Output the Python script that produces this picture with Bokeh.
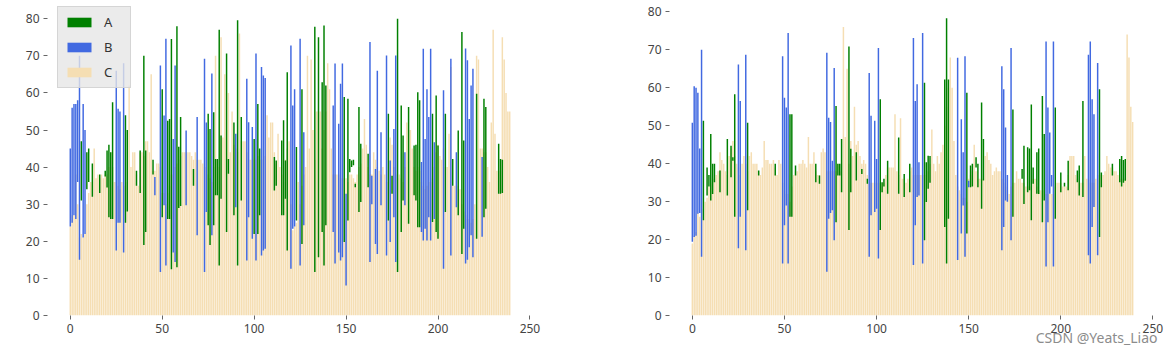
from bokeh.plotting import figure
from bokeh.layouts import row
from bokeh.models import FixedTicker, Legend, LegendItem, Range1d, Title
from bokeh.embed import file_html
from bokeh.resources import INLINE

# ---------------- data ----------------
labels = ["A", "B", "C"]
x_ticks = [0, 50, 100, 150, 200, 250]
y_ticks = [0, 10, 20, 30, 40, 50, 60, 70, 80]

# C (wheat) heights, left chart, index 0..239
c_left = [
    24, 27, 27, 38, 30, 21, 22, 21, 22, 30, 33, 36, 36, 45, 37, 38, 37, 38, 37, 38,
    38, 40, 44, 40, 36, 36, 35, 34, 36, 35, 35, 36, 62, 40, 44, 44, 38, 35, 44, 44,
    43, 47, 47, 44, 65, 39, 39, 41, 41, 40, 33, 33, 30, 33, 35, 38, 38, 40, 41, 42,
    43, 44, 44, 44, 44, 44, 43, 42, 44, 42, 42, 42, 41, 40, 40, 38, 37, 36, 40, 70,
    42, 40, 75, 48, 65, 50, 60, 44, 55, 46, 45, 44, 76, 47, 47, 47, 44, 42, 42, 42,
    42, 42, 43, 42, 42, 42, 43, 54, 48, 52, 52, 44, 41, 49, 40, 38, 36, 42, 45, 47,
    30, 23, 24, 25, 36, 30, 35, 38, 40, 70, 45, 69, 50, 42, 55, 55, 55, 45, 50, 55,
    68, 61, 45, 38, 38, 38, 38, 37, 37, 37, 37, 36, 38, 38, 37, 36, 38, 40, 41, 45,
    53, 46, 40, 38, 38, 44, 42, 40, 39, 38, 40, 38, 36, 36, 48, 46, 40, 38, 37, 38,
    37, 36, 40, 52, 50, 50, 45, 40, 39, 40, 39, 36, 35, 34, 35, 36, 36, 37, 40, 44,
    46, 43, 42, 45, 40, 40, 49, 67, 35, 35, 35, 35, 34, 30, 28, 27, 26, 26, 25, 26,
    30, 70, 69, 45, 45, 44, 44, 40, 36, 52, 77, 49, 39, 39, 39, 75, 69, 60, 55, 55,
]
# A (green) floating bars, left chart
a_left_x = [6, 9, 10, 12, 16, 19, 20, 21, 22, 23, 30, 31, 36, 38, 40, 41, 45, 50, 53, 54,
            55, 58, 59, 60, 67, 75, 76, 78, 79, 80, 81, 82, 85, 86, 89, 91, 93, 100, 102, 103,
            111, 112, 115, 116, 117, 118, 123, 126, 133, 135, 137, 138, 139, 149, 151, 152, 153, 154, 155, 157,
            158, 162, 173, 175, 178, 180, 181, 184, 187, 188, 189, 190, 197, 199, 200, 204, 208, 211, 213, 214,
            221, 225, 226, 233, 234, 235]
a_left_lo = [31, 34, 36, 32, 33, 37.5, 34.5, 26.5, 26, 26, 25, 28, 35, 33, 19, 22.5, 38, 26.5, 26, 26,
             12.5, 13, 29, 29.5, 35, 24.3, 19, 24.3, 32.4, 32.4, 13.5, 31.5, 22.5, 38.2, 27, 13.5, 31, 22, 22, 27,
             33.7, 35, 27, 27, 31.5, 17.5, 25.6, 19.3, 11.7, 15.7, 22.5, 13.5, 24.3, 19.8, 25.6, 38.6, 40, 40.5, 34.6, 27.9,
             30.6, 34.6, 25.6, 32.8, 11.7, 22.5, 31, 24.7, 32.4, 31, 23.8, 23.8, 25.2, 22.5, 20.7, 27.9, 35, 27, 16.6, 23.4,
             20.7, 26.5, 28.8, 32.8, 32.8, 33]
a_left_hi = [47, 44, 45, 41, 38, 39, 44.5, 46, 44, 57.5, 54, 50, 39, 44.5, 70, 44.5, 42, 61, 52.5, 53,
             74.5, 78, 45.5, 53.5, 39.5, 54.4, 50.3, 54.8, 42.2, 42.2, 77, 48.5, 70.6, 42.2, 52, 79.6, 53.5, 47.6, 57, 45,
             42.7, 41.8, 47.2, 52.6, 41.8, 65.6, 45.4, 61, 77.8, 75, 62.9, 78.2, 62, 58.9, 58.4, 42.2, 41.8, 42, 35.5, 56.2,
             46.3, 43.6, 54.4, 37.7, 80, 56.6, 48.5, 56.2, 45.8, 46, 60.2, 58, 54.4, 59.3, 45.8, 54.4, 42.2, 49.9, 76.4, 47.2,
             59.8, 58.4, 56.2, 46.3, 42.2, 42]
# B (blue) floating bars, left chart
b_left_x = [0, 1, 2, 3, 4, 5, 7, 8, 25, 26, 27, 29, 46, 49, 51, 52, 56, 57, 63, 69, 73, 74, 77,
            90, 96, 97, 99, 101, 104, 105, 106, 120, 121, 122, 125, 127, 143, 144, 146, 147, 148, 150,
            163, 164, 166, 167, 169, 172, 174, 176, 177, 182, 191, 192, 193, 194, 195, 196,
            198, 203, 207, 210, 215, 216, 217, 218, 219, 224]
b_left_lo = [24, 25, 27, 26, 36, 15, 21, 22, 17.5, 25, 25, 17, 32.4, 11.7, 29.7, 13.5, 17, 14.4, 29.7, 21.6, 11.7, 27.9, 21.6,
             29.2, 14.8, 26.5, 20.7, 14.8, 16.2, 17.5, 18, 12.6, 23.4, 24, 13.5, 24.3, 22.5, 14, 17, 14.8, 15.7, 8.1,
             14.4, 30, 19.3, 16.6, 29.7, 16.2, 19.8, 26.5, 14.4, 29.7, 22.5, 20.2, 23.4, 20.2, 26.5, 20.2,
             26, 12.6, 16.2, 29.2, 14, 15, 18.4, 21.6, 15.7, 21.2]
b_left_hi = [45, 56, 57, 57, 58, 70, 57, 50, 66, 55.7, 55, 68, 37.3, 67.4, 53.9, 74.6, 47.6, 67.4, 49.9, 53.5, 69.2, 52, 65.2,
             49, 63.8, 52.1, 50.8, 70.6, 67, 64.7, 64, 72.8, 56.6, 61, 74.6, 49.4, 56.6, 67.9, 51.7, 62.5, 67.9, 32.8,
             73.7, 37.7, 39.5, 66, 49.4, 70.1, 41.8, 50.3, 70.1, 44, 41.4, 71.9, 47.6, 61, 53.5, 71.9,
             46.7, 60.7, 69.2, 44, 72, 68.8, 53, 62, 66.5, 42.7]

# C (wheat) heights, right chart
c_right = [
    19, 21, 22, 27, 26, 25, 28, 30, 31, 34, 35, 36, 36, 37, 38, 43, 41, 40, 38, 37,
    42, 44, 46, 42, 40, 39, 37, 40, 42, 40, 38, 42, 43, 40, 40, 40, 38, 37, 39, 46,
    41, 41, 40, 40, 41, 39, 37, 41, 40, 35, 33, 32, 32, 30, 34, 37, 38, 38, 40, 40,
    41, 40, 39, 47, 40, 40, 43, 38, 37, 37, 43, 44, 43, 38, 38, 38, 38, 38, 38, 40,
    38, 41, 76, 47, 65, 40, 46, 42, 55, 45, 46, 42, 40, 41, 40, 37, 35, 35, 35, 35,
    35, 35, 35, 35, 35, 37, 39, 39, 39, 39, 53, 38, 37, 52, 36, 36, 35, 36, 38, 39,
    37, 37, 37, 37, 37, 37, 37, 37, 38, 40, 49, 40, 38, 42, 40, 43, 45, 50, 55, 60,
    68, 60, 46, 37, 34, 33, 32, 31, 31, 30, 36, 37, 38, 45, 38, 36, 36, 36, 36, 42,
    43, 41, 40, 37, 38, 39, 38, 38, 36, 35, 34, 33, 32, 34, 35, 35, 38, 36, 36, 35,
    35, 34, 34, 34, 34, 36, 36, 34, 33, 33, 33, 33, 32, 32, 32, 32, 32, 34, 35, 35,
    35, 34, 34, 34, 37, 42, 42, 42, 37, 36, 35, 35, 35, 42, 36, 36, 35, 35, 35, 36,
    37, 37, 37, 37, 38, 42, 40, 39, 39, 38, 38, 37, 36, 36, 36, 36, 74, 68, 55, 51,
]
a_right_x = [6, 8, 9, 10, 11, 12, 15, 19, 21, 22, 23, 30, 36, 45, 53, 54, 56, 67, 69, 78,
             79, 80, 81, 85, 86, 89, 92, 95, 102, 103, 104, 106, 112, 115, 118, 126, 127, 128, 129, 137,
             138, 139, 149, 151, 152, 154, 155, 157, 158, 174, 179, 180, 182, 183, 184, 185, 187, 188, 190, 191,
             197, 200, 202, 204, 209, 210, 212, 221, 222, 228, 232, 233, 234, 235]
a_right_lo = [25.1, 31.6, 34, 30.3, 32, 35.1, 32.5, 31.6, 36.4, 40.8, 26, 27.7, 36.9, 36.9, 26, 26, 36.9, 35.1, 34.7, 24.6,
              36.9, 36.9, 32.5, 22.5, 32.5, 35.6, 37.3, 34.7, 22.5, 32.5, 34, 32.1, 32.1, 31.2, 32.5, 19.8, 29.9, 33.4, 35, 23.3,
              13.7, 25.5, 21.6, 33.8, 34, 39, 33.8, 28.1, 35.6, 26, 36, 29.4, 32.5, 33, 25.1, 34.7, 32.1, 32, 24.6, 30.3,
              25.5, 32.5, 34, 33, 35.1, 31.6, 31.2, 20.7, 33.8, 36.9, 35.1, 34, 35, 35.5]
a_right_hi = [51.3, 39, 37, 47.8, 40, 40, 38.2, 46.5, 44.7, 41.7, 58.3, 50.8, 38.2, 40, 53, 53, 39.5, 40, 36.9, 55.2,
              40, 40, 46.5, 70.9, 43.9, 43, 38.6, 36, 57, 35.1, 36, 40.8, 46.9, 37.3, 40, 61.3, 40.4, 42.1, 42, 62.2,
              78.3, 62.2, 58.7, 39.5, 40, 41.7, 40, 56.1, 46.5, 54.3, 38.6, 44.7, 44.3, 44, 55.6, 39, 43, 44, 57.8, 47.8,
              54.8, 37.7, 35, 40.8, 38.2, 39.5, 56.5, 59.6, 37.7, 40, 41.2, 42, 41, 41.2]
b_right_x = [0, 1, 2, 3, 4, 5, 25, 26, 29, 49, 50, 51, 52, 73, 74, 75, 76, 77, 96, 97, 99, 100, 101,
             120, 121, 122, 123, 125, 144, 146, 147, 148, 150, 168, 169, 170, 171, 173, 192, 193, 194, 195, 196,
             215, 216, 217, 218, 220]
b_right_lo = [19.4, 20.7, 21, 26.8, 27, 15.5, 17.7, 26, 17.2, 13.7, 23.8, 29, 13.7, 11.5, 25.5, 27, 27.7, 19.8,
              15.5, 26.4, 27.3, 28.1, 15, 13.3, 23.8, 31.2, 31.6, 13.7, 14.6, 21.6, 29, 15.5, 33.8,
              17.2, 23.3, 30.3, 30, 19.8, 12.9, 24.6, 32.1, 34, 12.9, 15.9, 13.7, 23.3, 28.6, 15.9]
b_right_hi = [50.8, 60.4, 60, 58.7, 44, 70, 66.1, 56.5, 68.7, 68.3, 57.4, 54.8, 74.4, 69.2, 52.1, 51, 40.8, 65.2,
              63.9, 52.6, 51.3, 41.2, 70.5, 73.1, 56.5, 60.9, 40.4, 74.4, 67.9, 51.7, 43, 68.3, 35.5,
              65.7, 59.6, 49.5, 37, 70.5, 72.2, 54.8, 48.2, 37, 72.2, 68.7, 72.2, 57, 53, 66.5]

watermark = "CSDN @Yeats_Liao"

# ---------------- drawing ----------------
FONT = "Noto Sans"
COL_A, COL_B, COL_C = "green", "royalblue", "wheat"


def make_fig(width, c, ax_, alo, ahi, bx, blo, bhi, ymax, bl, br, bt, bb):
    p = figure(width=width, height=355, x_range=Range1d(-12.4, 251.4), y_range=Range1d(0, ymax),
               output_backend="svg", toolbar_location=None,
               min_border_left=bl, min_border_right=br, min_border_top=bt, min_border_bottom=bb)
    rc = p.vbar(x=list(range(len(c))), top=c, bottom=0, width=0.8, fill_color=COL_C, line_color=None)
    ra = p.vbar(x=ax_, top=ahi, bottom=alo, width=0.8, fill_color=COL_A, line_color=None)
    rb = p.vbar(x=bx, top=bhi, bottom=blo, width=0.8, fill_color=COL_B, line_color=None)
    p.xaxis.ticker = FixedTicker(ticks=x_ticks)
    p.yaxis.ticker = FixedTicker(ticks=y_ticks)
    for axis in (p.xaxis, p.yaxis):
        axis.axis_line_color = None
        axis.major_tick_line_color = "#666666"
        axis.major_tick_out = 4
        axis.major_tick_in = 0
        axis.minor_tick_line_color = None
        axis.major_label_text_font = FONT
        axis.major_label_text_font_size = "12px"
        axis.major_label_text_color = "#444444"
        axis.major_label_standoff = 4
    p.grid.visible = False
    p.outline_line_color = None
    p.background_fill_color = "white"
    p.border_fill_color = "white"
    return p, ra, rb, rc


p1, ra, rb, rc = make_fig(600, c_left, a_left_x, a_left_lo, a_left_hi, b_left_x, b_left_lo, b_left_hi,
                          84.1, 47, 68, 3, 40)
legend = Legend(items=[LegendItem(label=labels[0], renderers=[ra]),
                       LegendItem(label=labels[1], renderers=[rb]),
                       LegendItem(label=labels[2], renderers=[rc])],
                location=(10, 227), orientation="vertical",
                background_fill_color="#e6e6e6", background_fill_alpha=0.8,
                border_line_color="#d0d0d0", border_line_alpha=0.8,
                label_text_font=FONT, label_text_font_size="13px", label_text_color="#333333",
                glyph_width=30, glyph_height=12, label_height=16, spacing=7, padding=6,
                label_standoff=10, margin=0)
p1.add_layout(legend, "center")

p2, _, _, _ = make_fig(575, c_right, a_right_x, a_right_lo, a_right_hi, b_right_x, b_right_lo, b_right_hi,
                       82.2, 69, 20, 2, 39)
p2.add_layout(Title(text=watermark, align="right", standoff=-19, offset=-2,
                    text_font=FONT, text_font_size="14px", text_font_style="normal",
                    text_color="#8c8c8c"), "below")

layout = row(p1, p2)
open("out.html", "w").write(file_html(layout, INLINE))
